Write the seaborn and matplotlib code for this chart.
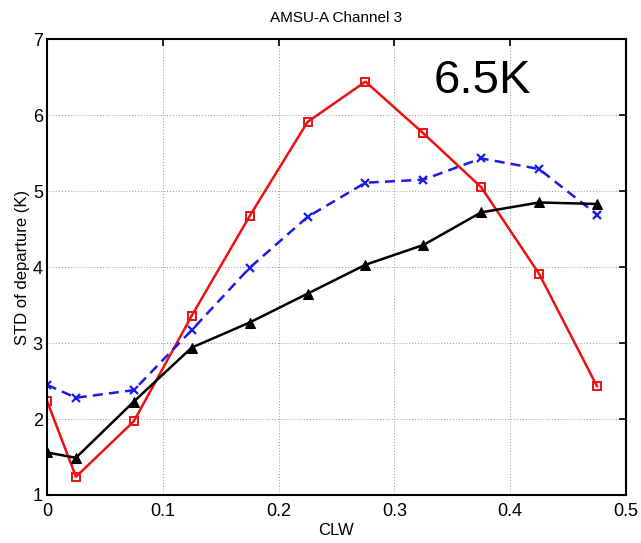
import matplotlib
matplotlib.use("Agg")
import matplotlib.pyplot as plt
import seaborn as sns
import pandas as pd

# CLW bin centres
clw = [0.0, 0.025, 0.075, 0.125, 0.175, 0.225, 0.275, 0.325, 0.375, 0.425, 0.475]

# STD of departure (K) for the three curves
std_red = [2.24, 1.24, 1.97, 3.36, 4.67, 5.91, 6.44, 5.76, 5.05, 3.91, 2.43]
std_blue = [2.45, 2.28, 2.38, 3.17, 3.99, 4.66, 5.11, 5.15, 5.43, 5.29, 4.69]
std_black = [1.56, 1.49, 2.23, 2.94, 3.27, 3.65, 4.03, 4.29, 4.72, 4.85, 4.83]

x_ticks = [0, 0.1, 0.2, 0.3, 0.4, 0.5]
x_labels = ["0", "0.1", "0.2", "0.3", "0.4", "0.5"]
y_ticks = [1, 2, 3, 4, 5, 6, 7]


def make_plot(save_path="out.png"):
    sns.set_style("white")
    plt.rcParams["font.family"] = ["Liberation Sans", "DejaVu Sans"]
    plt.rcParams["text.color"] = "black"
    plt.rcParams["axes.labelcolor"] = "black"
    plt.rcParams["xtick.color"] = "black"
    plt.rcParams["ytick.color"] = "black"

    fig = plt.figure(figsize=(6.41, 5.43), dpi=100)
    ax = fig.add_axes([0.0733, 0.0884, 0.9033, 0.8396])

    sns.lineplot(x=clw, y=std_red, ax=ax, color="#ee1111", linewidth=1.8,
                 marker="s", markersize=5.5, markerfacecolor="none",
                 markeredgecolor="#ee1111", markeredgewidth=1.4)
    sns.lineplot(x=clw, y=std_blue, ax=ax, color="#1a1aee", linewidth=1.8,
                 linestyle=(0, (4, 2.5)), marker="x", markersize=6,
                 markeredgecolor="#1a1aee", markeredgewidth=1.6)
    sns.lineplot(x=clw, y=std_black, ax=ax, color="black", linewidth=1.8,
                 marker="^", markersize=7, markerfacecolor="black",
                 markeredgecolor="black")

    ax.set_xlim(0, 0.5)
    ax.set_ylim(1, 7)
    ax.set_xticks(x_ticks)
    ax.set_xticklabels(x_labels)
    ax.set_yticks(y_ticks)
    ax.tick_params(direction="in", length=5, width=1.2, top=True, right=True,
                   labelsize=13, colors="black")
    ax.tick_params(axis="x", pad=6)
    ax.tick_params(axis="y", pad=3)
    ax.grid(True, linestyle=(0, (1, 2)), color="#999999", linewidth=0.7)
    for s in ax.spines.values():
        s.set_linewidth(1.5)
        s.set_color("black")

    ax.set_title("AMSU-A Channel 3", fontsize=11, pad=12, color="black")
    ax.set_xlabel("CLW", fontsize=12, labelpad=2)
    ax.set_ylabel("STD of departure (K)", fontsize=12, labelpad=2)
    ax.text(0.376, 6.45, "6.5K", fontsize=34, ha="center", va="center",
            color="black")

    fig.savefig(save_path, dpi=100)


if __name__ == "__main__":
    make_plot()
